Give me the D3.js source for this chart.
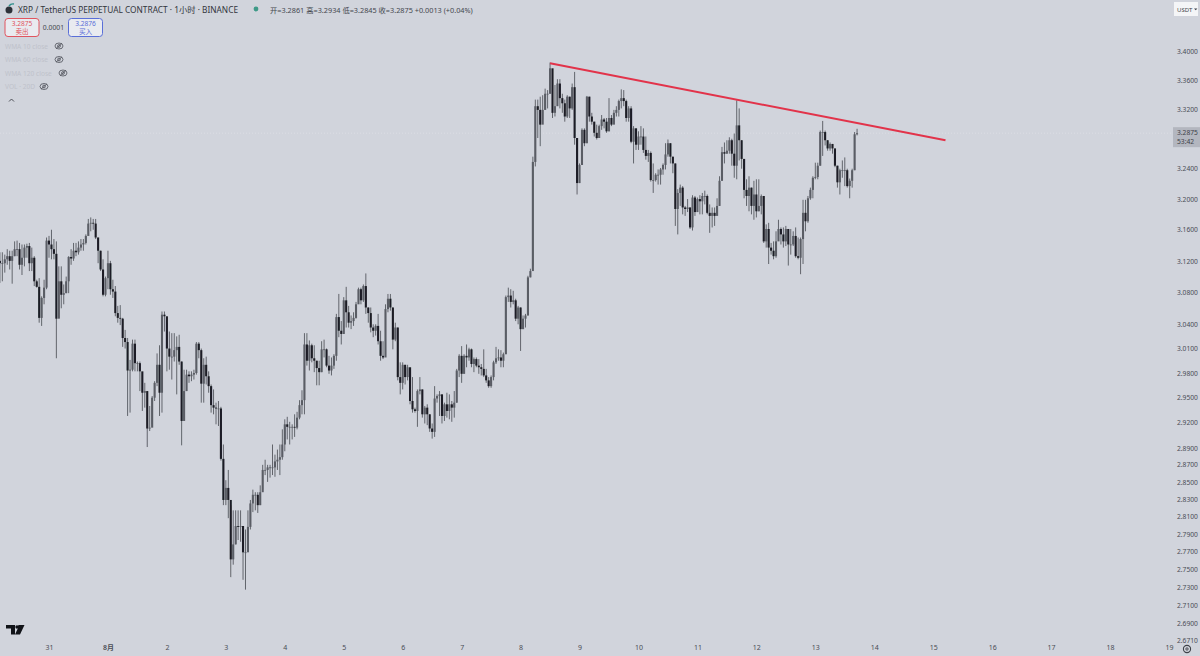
<!DOCTYPE html>
<html><head><meta charset="utf-8">
<script src="https://cdn.jsdelivr.net/npm/d3@7/dist/d3.min.js"></script>
<style>html,body{margin:0;padding:0;background:#d1d4dc;overflow:hidden}svg{display:block}text{font-family:"Noto Sans","Noto Sans CJK SC",sans-serif}</style>
</head><body><div id="c"></div>
<script>
const closes=[3.117,3.117,3.122,3.126,3.120,3.126,3.135,3.135,3.115,3.124,
3.137,3.139,3.117,3.124,3.094,3.087,3.048,3.073,3.086,3.146,
3.141,3.135,3.129,3.047,3.094,3.077,3.079,3.094,3.125,3.123,
3.133,3.131,3.137,3.141,3.143,3.152,3.168,3.169,3.168,3.150,
3.133,3.109,3.077,3.098,3.117,3.084,3.081,3.054,3.048,3.047,
3.023,3.018,2.983,2.984,3.016,2.992,2.992,2.982,2.956,2.958,
2.913,2.914,2.950,2.968,2.990,2.956,3.052,3.050,3.010,3.000,
3.000,3.008,3.012,2.994,2.922,2.958,2.978,2.976,2.978,2.980,
3.016,3.008,2.967,2.990,2.976,2.964,2.941,2.938,2.937,2.937,
2.877,2.829,2.843,2.829,2.761,2.778,2.799,2.798,2.799,2.769,
2.769,2.798,2.825,2.835,2.835,2.823,2.838,2.864,2.864,2.867,
2.867,2.867,2.874,2.876,2.879,2.894,2.918,2.915,2.915,2.915,
2.914,2.926,2.941,2.947,3.015,2.995,3.014,2.998,2.995,2.986,
2.981,3.009,3.009,2.989,2.983,2.989,3.001,3.049,3.032,3.028,
3.070,3.055,3.042,3.044,3.048,3.065,3.084,3.070,3.088,3.061,
3.054,3.036,3.032,3.038,3.019,3.001,2.999,3.059,3.072,3.061,
3.021,3.036,2.975,2.968,2.990,2.975,2.987,2.946,2.936,2.934,
2.958,2.960,2.930,2.938,2.930,2.913,2.909,2.949,2.952,2.954,
2.928,2.942,2.934,2.942,2.938,2.944,2.983,3.001,2.979,3.001,
2.999,3.009,2.991,2.997,2.989,2.987,2.985,2.977,2.971,2.964,
2.975,2.993,2.998,2.999,2.995,3.003,3.074,3.076,3.068,3.070,
3.047,3.061,3.034,3.047,3.051,3.099,3.107,3.249,3.324,3.319,
3.299,3.319,3.341,3.341,3.376,3.315,3.324,3.355,3.335,3.328,
3.310,3.337,3.321,3.350,3.281,3.221,3.245,3.292,3.274,3.337,
3.310,3.303,3.288,3.281,3.297,3.306,3.303,3.290,3.308,3.299,
3.315,3.319,3.331,3.335,3.331,3.308,3.321,3.276,3.294,3.272,
3.283,3.283,3.265,3.257,3.261,3.225,3.225,3.232,3.232,3.239,
3.245,3.259,3.274,3.256,3.247,3.187,3.208,3.215,3.189,3.187,
3.189,3.163,3.202,3.183,3.200,3.197,3.204,3.204,3.182,3.178,
3.182,3.178,3.191,3.224,3.262,3.260,3.264,3.278,3.260,3.244,
3.298,3.278,3.253,3.212,3.204,3.215,3.191,3.206,3.184,3.191,
3.204,3.145,3.161,3.137,3.133,3.126,3.145,3.161,3.154,3.145,
3.161,3.141,3.141,3.152,3.126,3.124,3.148,3.182,3.171,3.201,
3.212,3.228,3.229,3.244,3.289,3.289,3.278,3.267,3.273,3.267,
3.244,3.222,3.238,3.238,3.238,3.217,3.224,3.238,3.286,3.2875];
const highs=[3.131,3.131,3.128,3.135,3.133,3.133,3.145,3.146,3.143,3.141,
3.141,3.142,3.143,3.137,3.126,3.096,3.098,3.075,3.096,3.150,
3.152,3.160,3.148,3.145,3.113,3.113,3.090,3.100,3.126,3.135,
3.143,3.143,3.145,3.148,3.148,3.154,3.174,3.176,3.174,3.174,
3.150,3.133,3.122,3.100,3.133,3.120,3.096,3.088,3.063,3.064,
3.048,3.033,3.023,2.996,3.021,3.021,2.994,2.994,2.978,2.968,
2.958,2.940,2.952,2.970,3.004,3.014,3.056,3.056,3.042,3.031,
3.029,3.029,3.025,3.027,2.994,2.984,2.984,2.982,2.982,2.984,
3.018,3.018,3.010,2.998,3.000,2.982,2.966,2.960,2.944,2.946,
2.939,2.894,2.852,2.864,2.823,2.817,2.817,2.817,2.817,2.799,
2.795,2.817,2.829,2.841,2.838,2.838,2.846,2.870,2.876,2.870,
2.870,2.894,2.882,2.888,2.894,2.912,2.924,2.927,2.921,2.918,
2.930,2.933,2.947,2.959,3.029,3.029,3.020,3.016,3.014,2.995,
2.995,3.019,3.021,3.010,3.001,2.999,3.003,3.053,3.078,3.044,
3.074,3.087,3.063,3.051,3.055,3.068,3.086,3.086,3.090,3.104,
3.061,3.061,3.040,3.040,3.053,3.032,3.019,3.065,3.078,3.078,
3.061,3.042,3.036,2.993,2.993,2.990,2.990,2.981,2.975,2.938,
2.960,2.975,2.960,2.940,2.942,2.930,2.919,2.964,2.954,2.958,
2.954,2.944,2.956,2.954,2.946,2.958,2.985,3.003,3.013,3.003,
3.015,3.011,3.010,2.999,2.999,2.997,2.991,3.009,2.985,2.975,
2.977,2.995,3.012,3.009,3.008,3.005,3.076,3.086,3.084,3.082,
3.072,3.063,3.061,3.051,3.053,3.101,3.110,3.256,3.333,3.333,
3.337,3.339,3.348,3.346,3.384,3.350,3.353,3.361,3.361,3.341,
3.333,3.339,3.337,3.355,3.371,3.281,3.247,3.294,3.294,3.338,
3.337,3.315,3.303,3.299,3.299,3.312,3.308,3.308,3.335,3.312,
3.319,3.324,3.333,3.347,3.346,3.333,3.324,3.324,3.297,3.294,
3.290,3.297,3.294,3.283,3.265,3.263,3.247,3.234,3.239,3.241,
3.247,3.274,3.279,3.274,3.256,3.247,3.213,3.219,3.217,3.191,
3.200,3.189,3.205,3.204,3.202,3.205,3.208,3.211,3.206,3.193,
3.189,3.189,3.201,3.230,3.269,3.275,3.278,3.282,3.280,3.287,
3.332,3.321,3.278,3.253,3.226,3.230,3.215,3.224,3.226,3.226,
3.206,3.204,3.167,3.169,3.143,3.145,3.158,3.173,3.163,3.163,
3.165,3.161,3.161,3.158,3.163,3.150,3.150,3.199,3.199,3.204,
3.215,3.230,3.248,3.248,3.291,3.304,3.291,3.278,3.275,3.273,
3.267,3.244,3.240,3.251,3.255,3.240,3.227,3.240,3.289,3.2934];
const lows=[3.092,3.094,3.105,3.115,3.109,3.091,3.126,3.126,3.109,3.102,
3.113,3.124,3.107,3.107,3.088,3.086,3.042,3.038,3.065,3.084,
3.124,3.122,3.122,2.998,3.048,3.060,3.065,3.079,3.079,3.115,
3.120,3.126,3.128,3.133,3.133,3.141,3.154,3.158,3.160,3.148,
3.117,3.107,3.075,3.075,3.084,3.077,3.073,3.050,3.042,3.039,
3.012,3.010,2.928,2.932,2.982,2.982,2.982,2.958,2.934,2.938,
2.891,2.910,2.918,2.946,2.964,2.928,2.932,3.031,2.982,2.984,
2.972,2.994,2.954,2.990,2.893,2.946,2.958,2.968,2.970,2.972,
2.978,2.998,2.944,2.944,2.966,2.956,2.932,2.930,2.918,2.916,
2.875,2.823,2.823,2.808,2.741,2.755,2.778,2.783,2.781,2.738,
2.727,2.774,2.795,2.815,2.817,2.814,2.823,2.841,2.858,2.850,
2.855,2.858,2.856,2.864,2.858,2.876,2.886,2.900,2.894,2.900,
2.903,2.912,2.924,2.930,2.930,2.989,2.983,2.993,2.981,2.965,
2.965,2.981,2.999,2.987,2.979,2.977,2.985,2.995,3.024,3.015,
3.028,3.036,3.036,3.034,3.038,3.047,3.068,3.065,3.068,3.053,
3.042,3.030,3.024,3.026,3.015,2.995,2.997,3.030,3.055,3.057,
3.009,3.019,2.971,2.954,2.960,2.966,2.971,2.942,2.932,2.932,
2.915,2.954,2.926,2.919,2.917,2.909,2.901,2.903,2.944,2.928,
2.919,2.922,2.926,2.924,2.921,2.926,2.944,2.975,2.968,2.979,
2.987,2.995,2.987,2.981,2.987,2.979,2.977,2.975,2.968,2.962,
2.962,2.971,2.991,2.995,2.987,2.987,3.003,3.068,3.061,3.065,
3.044,3.040,3.007,3.034,3.036,3.051,3.099,3.114,3.243,3.281,
3.270,3.306,3.319,3.321,3.341,3.308,3.310,3.333,3.321,3.315,
3.303,3.308,3.308,3.319,3.272,3.206,3.221,3.245,3.270,3.274,
3.303,3.299,3.283,3.279,3.281,3.292,3.294,3.288,3.290,3.297,
3.303,3.310,3.310,3.321,3.324,3.303,3.303,3.274,3.247,3.265,
3.265,3.272,3.261,3.252,3.249,3.223,3.208,3.223,3.219,3.219,
3.232,3.239,3.256,3.247,3.234,3.165,3.154,3.191,3.180,3.178,
3.183,3.161,3.159,3.178,3.183,3.180,3.180,3.193,3.180,3.156,
3.163,3.165,3.180,3.191,3.224,3.247,3.260,3.260,3.244,3.228,
3.226,3.251,3.240,3.201,3.191,3.184,3.180,3.173,3.176,3.184,
3.180,3.143,3.137,3.116,3.128,3.122,3.124,3.148,3.141,3.137,
3.139,3.114,3.128,3.139,3.124,3.122,3.103,3.116,3.158,3.169,
3.199,3.201,3.226,3.226,3.244,3.257,3.271,3.264,3.264,3.260,
3.242,3.215,3.206,3.228,3.217,3.215,3.201,3.215,3.238,3.2845];
const firstOpen=3.120;
const priceTicks=[3.40,3.36,3.32,3.24,3.20,3.16,3.12,3.08,3.04,3.01,2.98,2.95,2.92,2.89,2.87,2.85,2.83,2.81,2.79,2.77,2.75,2.73,2.71,2.69,2.671];
const dayLabels=["31","8月","2","3","4","5","6","7","8","9","10","11","12","13","14","15","16","17","18","19"];
const dayStartHour=20, hoursPerDay=24;
const trendIndex=[224,385], trendPrice=[3.383,3.278];
const lastPrice=3.2875, countdown="53:42";
const titleText="XRP / TetherUS PERPETUAL CONTRACT · 1小时 · BINANCE";
const ohlcText="开=3.2861 高=3.2934 低=3.2845 收=3.2875 +0.0013 (+0.04%)";
const legendRows=["WMA 10 close","WMA 60 close","WMA 120 close","VOL · 20D"];

const W=1200,H=656;
const svg=d3.select("#c").append("svg").attr("width",W).attr("height",H);
svg.append("rect").attr("width",W).attr("height",H).attr("fill","#d1d4dc");
const x=d3.scaleLinear().domain([20,476]).range([49,1169]);
const y=d3.scaleLog().domain([3.4,2.69]).range([51,623]);
svg.append("defs").append("filter").attr("id","b").append("feGaussianBlur").attr("stdDeviation",0.35);

// last price line
svg.append("line").attr("x1",0).attr("x2",1173).attr("y1",y(lastPrice)).attr("y2",y(lastPrice))
 .attr("stroke","#dcdee4").attr("stroke-width",1).attr("stroke-dasharray","1 2");

const candles=closes.map((c,i)=>({i,c,o:i?closes[i-1]:firstOpen,h:highs[i],l:lows[i]}));
const g=svg.append("g").attr("filter","url(#b)");
g.selectAll("line.w").data(candles).join("line").attr("class","w")
 .attr("x1",d=>x(d.i)).attr("x2",d=>x(d.i)).attr("y1",d=>y(d.h)).attr("y2",d=>y(d.l))
 .attr("stroke","#55585f").attr("stroke-width",0.9);
g.selectAll("rect.b").data(candles).join("rect").attr("class","b")
 .attr("x",d=>x(d.i)-1.05).attr("width",2.1)
 .attr("y",d=>y(Math.max(d.o,d.c))).attr("height",d=>Math.max(0.8,Math.abs(y(d.o)-y(d.c))))
 .attr("fill",d=>d.c>=d.o?"#5a5d65":"#1d1f25");

// trend line
svg.append("line").attr("x1",x(trendIndex[0])).attr("x2",x(trendIndex[1]))
 .attr("y1",y(trendPrice[0])).attr("y2",y(trendPrice[1]))
 .attr("stroke","#e2334a").attr("stroke-width",2);

// axes
const ay=d3.axisRight(y).tickValues(priceTicks).tickSize(0).tickPadding(0).tickFormat(d3.format(".4f"));
const gy=svg.append("g").attr("transform","translate(1177,0)").call(ay);
gy.select(".domain").remove();
gy.selectAll("text").attr("font-size",6.7).attr("fill","#4a4d55");
const tickIdx=dayLabels.map((_,k)=>dayStartHour+k*hoursPerDay);
const ax=d3.axisBottom(x).tickValues(tickIdx).tickSize(0).tickPadding(0).tickFormat((d,k)=>dayLabels[k]);
const gx=svg.append("g").attr("transform","translate(0,645)").call(ax);
gx.select(".domain").remove();
gx.selectAll("text").attr("font-size",7).attr("fill","#4a4d55").attr("font-weight",(d,k)=>k==1?600:400);

// price tag
svg.append("rect").attr("x",1173).attr("y",y(lastPrice)-6).attr("width",27).attr("height",20).attr("fill","#b3b6bf");
const tag=(t,yy)=>svg.append("text").attr("x",1177).attr("y",yy).attr("font-size",6.7).attr("fill","#3e4148").text(t);
tag(d3.format(".4f")(lastPrice),y(lastPrice)+2);
tag(countdown,y(lastPrice)+10.5);
// USDT button
svg.append("rect").attr("x",1174).attr("y",2).attr("width",24).attr("height",14).attr("fill","#f4f5f7");
svg.append("text").attr("x",1177).attr("y",11.5).attr("font-size",6).attr("fill","#3e4148").text("USDT");
svg.append("path").attr("d","M1194 8.5h3.4l-1.7 1.8z").attr("fill","#3e4148");

// header
svg.append("circle").attr("cx",9).attr("cy",10).attr("r",3.5).attr("fill","#2e3138");
svg.append("path").attr("d","M9 6a5 5 0 0 1 5-2").attr("fill","none").attr("stroke","#2f8f8a").attr("stroke-width",1.4);
svg.append("text").attr("x",18).attr("y",12.5).attr("font-size",8.3).attr("fill","#33363d").text(titleText);
svg.append("circle").attr("cx",256).attr("cy",9).attr("r",2.4).attr("fill","#3f9a88");
svg.append("text").attr("x",270).attr("y",12.5).attr("font-size",7.3).attr("fill","#45484f").text(ohlcText);

// buy / sell
const box=(bx,col,a,b)=>{
 svg.append("rect").attr("x",bx).attr("y",18.5).attr("width",34).attr("height",18).attr("rx",3).attr("fill","#e9ebf0").attr("stroke",col).attr("stroke-width",1);
 svg.append("text").attr("x",bx+17).attr("y",26).attr("text-anchor","middle").attr("font-size",6.6).attr("fill",col).text(a);
 svg.append("text").attr("x",bx+17).attr("y",34).attr("text-anchor","middle").attr("font-size",6.6).attr("fill",col).text(b);
};
box(5,"#e0555f","3.2875","卖出");
box(68.5,"#5a6fd8","3.2876","买入");
svg.append("text").attr("x",53.5).attr("y",30).attr("text-anchor","middle").attr("font-size",6.8).attr("fill","#45484f").text("0.0001");

// legend
const eyeX=[59,59,63,44];
legendRows.forEach((t,k)=>{
 const ly=46+k*13.5;
 svg.append("text").attr("x",5).attr("y",ly+2.5).attr("font-size",6.6).attr("fill","#bfc2cb").text(t);
 const e=svg.append("g").attr("transform",`translate(${eyeX[k]},${ly})`).attr("fill","none").attr("stroke","#4e5159").attr("stroke-width",0.8);
 e.append("ellipse").attr("rx",4).attr("ry",3);
 e.append("circle").attr("r",1.4);
 e.append("path").attr("d","M-3 2.6L3 -2.6");
});
svg.append("path").attr("d","M9 101.5l2.5-2.5 2.5 2.5").attr("fill","none").attr("stroke","#3e4148").attr("stroke-width",0.9);

// logo
svg.append("path").attr("d","M6 625h9v9.5h-4v-6h-5zM19 625h5.5l-4.5 9.5h-5l3-6.5a1.8 1.8 0 0 1 1-3z").attr("fill","#111318");
svg.append("circle").attr("cx",17).attr("cy",627).attr("r",1.7).attr("fill","#111318");

// gear
const gear=svg.append("g").attr("transform","translate(1187,649)").attr("fill","none").attr("stroke","#3e4148");
gear.append("circle").attr("r",3.6).attr("stroke-width",1.1);
gear.append("circle").attr("r",1.2).attr("stroke-width",0.9);
</script></body></html>
